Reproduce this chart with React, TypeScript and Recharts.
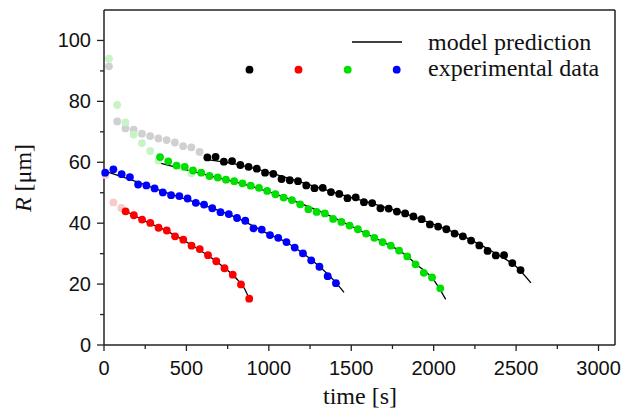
import React from 'react';
import { ComposedChart, Scatter, Line, XAxis, YAxis, ReferenceLine } from 'recharts';

const SERIF = '"Liberation Serif", "Times New Roman", serif';
const SANS = '"Liberation Sans", Arial, sans-serif';

const xTicks = [0, 250, 500, 750, 1000, 1250, 1500, 1750, 2000, 2250, 2500, 2750, 3000];
const yTicks = [0, 10, 20, 30, 40, 50, 60, 70, 80, 90, 100];

// experimental data
const redT = [131, 181, 231, 281, 331, 381, 431, 481, 531, 581, 631, 681, 731, 781, 831, 881];
const redR = [43.9, 42.6, 41.2, 40.1, 38.5, 37.6, 35.7, 34.6, 32.6, 31.5, 29.5, 27.5, 25.2, 23.1, 19.9, 15.2];

const blueT = [7, 57, 107, 157, 207, 257, 307, 357, 407, 457, 507, 557, 607, 657, 707, 757, 807, 857, 907, 957, 1007, 1057, 1107, 1157, 1207, 1257, 1307, 1357, 1407];
const blueR = [56.6, 57.7, 56.1, 55.1, 52.7, 52.4, 51.4, 50.1, 49.2, 48.9, 48.1, 46.7, 46.1, 44.9, 43.6, 43.0, 41.7, 40.8, 38.3, 37.9, 36.1, 35.2, 33.8, 32.0, 30.1, 27.8, 25.7, 22.6, 20.3];

const greenT = [340, 390, 440, 490, 540, 590, 640, 690, 740, 790, 840, 890, 940, 990, 1040, 1090, 1140, 1190, 1240, 1290, 1340, 1390, 1440, 1490, 1540, 1590, 1640, 1690, 1740, 1790, 1840, 1890, 1940, 1990, 2040];
const greenR = [61.7, 60.3, 58.9, 58.5, 57.3, 56.6, 55.5, 55.0, 54.3, 53.8, 53.1, 52.3, 51.6, 50.6, 49.5, 48.4, 47.6, 46.2, 44.6, 43.7, 43.2, 41.4, 40.4, 39.2, 38.0, 36.6, 35.2, 33.8, 32.6, 31.0, 29.1, 26.5, 23.7, 22.2, 18.6];

const blackT = [627, 677, 727, 777, 827, 877, 927, 977, 1027, 1077, 1127, 1177, 1227, 1277, 1327, 1377, 1427, 1477, 1527, 1577, 1627, 1677, 1727, 1777, 1827, 1877, 1927, 1977, 2027, 2077, 2127, 2177, 2227, 2277, 2327, 2377, 2427, 2477, 2527];
const blackR = [61.6, 61.8, 60.2, 60.4, 59.1, 58.5, 57.9, 56.6, 56.2, 54.5, 54.1, 53.8, 52.4, 51.5, 51.6, 50.2, 49.6, 48.2, 48.5, 46.9, 46.6, 44.9, 44.8, 43.8, 43.2, 42.2, 41.3, 39.6, 38.9, 38.0, 36.6, 35.7, 34.3, 32.7, 30.9, 29.4, 29.5, 26.9, 24.6];

// faded (excluded) points
const grayFadedT = [30, 80, 130, 180, 230, 280, 330, 380, 430, 480, 530, 580];
const grayFadedR = [91.5, 73.4, 71.1, 70.7, 69.4, 68.6, 67.8, 67.3, 66.5, 65.3, 64.9, 63.4];
const greenFadedT = [30, 80, 130, 180, 230, 280, 330, 480, 530];
const greenFadedR = [94.0, 78.8, 73.1, 69.1, 66.3, 63.7, 60.6, 58.3, 56.4];
const redFadedT = [8, 57, 105];
const redFadedR = [55.8, 46.8, 45.0];

// model prediction
const redModelT = [130, 250, 400, 550, 700, 800, 850, 878];
const redModelR = [44.0, 40.7, 36.9, 32.2, 26.7, 22.0, 18.7, 15.6];
const blueModelT = [0, 200, 400, 600, 800, 1000, 1100, 1200, 1300, 1400, 1456];
const blueModelR = [57.2, 53.6, 49.6, 46.0, 41.9, 36.4, 33.9, 30.4, 26.1, 20.9, 17.3];
const greenModelT = [340, 500, 700, 900, 1100, 1300, 1500, 1700, 1800, 1900, 2000, 2073];
const greenModelR = [59.7, 57.5, 54.8, 52.0, 48.4, 44.1, 39.0, 33.6, 30.7, 26.3, 21.4, 15.0];
const blackModelT = [626, 800, 1000, 1200, 1400, 1600, 1800, 2000, 2200, 2400, 2500, 2590];
const blackModelR = [60.9, 59.4, 56.7, 53.4, 50.0, 46.9, 43.6, 39.6, 35.2, 29.3, 25.8, 20.4];

const pts = (t: number[], r: number[]) => t.map((v, i) => ({ t: v, R: r[i] }));

const dot = (color: string) => (p: any) => <circle cx={p.cx} cy={p.cy} r={3.9} fill={color} />;

const AXIS = '#222';

function XTick({ x, y, payload }: any) {
  const major = payload.value % 500 === 0;
  return (
    <g>
      <line x1={x} x2={x} y1={y} y2={y + (major ? 6 : 4)} stroke={AXIS} strokeWidth={1.3} />
      {major && (
        <text x={x} y={y + 30} textAnchor="middle" fontFamily={SANS} fontSize={20} fill="#111">
          {payload.value}
        </text>
      )}
    </g>
  );
}

function YTick({ x, y, payload }: any) {
  const major = payload.value % 20 === 0;
  return (
    <g>
      <line x1={x - (major ? 7 : 4)} x2={x} y1={y} y2={y} stroke={AXIS} strokeWidth={1.3} />
      {major && (
        <text x={x - 13} y={y + 7} textAnchor="end" fontFamily={SANS} fontSize={20} fill="#111">
          {payload.value}
        </text>
      )}
    </g>
  );
}

const series = [
  { t: grayFadedT, r: grayFadedR, c: '#d0d0d0' },
  { t: greenFadedT, r: greenFadedR, c: '#c6f4c6' },
  { t: redFadedT, r: redFadedR, c: '#f9caca' },
  { t: redT, r: redR, c: '#ff0000' },
  { t: blueT, r: blueR, c: '#0000ff' },
  { t: greenT, r: greenR, c: '#00e000' },
  { t: blackT, r: blackR, c: '#000000' },
];

const models = [
  { t: redModelT, r: redModelR },
  { t: blueModelT, r: blueModelR },
  { t: greenModelT, r: greenModelR },
  { t: blackModelT, r: blackModelR },
];

export default function App() {
  return (
    <div style={{ position: 'absolute', left: 0, top: 0, width: 624, height: 412, background: '#fff' }}>
      <ComposedChart width={624} height={412} margin={{ top: 10, right: 9, left: 0, bottom: 0 }}>
        <XAxis
          dataKey="t"
          type="number"
          domain={[0, 3100]}
          ticks={xTicks}
          interval={0}
          tickSize={0}
          tickMargin={0}
          height={67}
          tick={<XTick />}
          tickLine={false}
          axisLine={{ stroke: AXIS, strokeWidth: 1.5 }}
        />
        <YAxis
          dataKey="R"
          type="number"
          domain={[0, 110]}
          ticks={yTicks}
          interval={0}
          tickSize={0}
          tickMargin={0}
          width={104}
          tick={<YTick />}
          tickLine={false}
          axisLine={{ stroke: AXIS, strokeWidth: 1.5 }}
        />
        <ReferenceLine y={110} stroke={AXIS} strokeWidth={1.5} />
        <ReferenceLine x={3100} stroke={AXIS} strokeWidth={1.5} />
        {series.map((s, i) => (
          <Scatter key={'s' + i} data={pts(s.t, s.r)} dataKey="R" shape={dot(s.c)} isAnimationActive={false} />
        ))}
        {models.map((m, i) => (
          <Line
            key={'m' + i}
            data={pts(m.t, m.r)}
            dataKey="R"
            type="monotone"
            stroke="#000"
            strokeWidth={1.3}
            dot={false}
            activeDot={false}
            isAnimationActive={false}
          />
        ))}
      </ComposedChart>
      <svg width={624} height={412} style={{ position: 'absolute', left: 0, top: 0, pointerEvents: 'none' }}>
        <line x1={352} x2={402} y1={42} y2={42} stroke="#000" strokeWidth={1.3} />
        <text x={428} y={50} fontFamily={SERIF} fontSize={24} fill="#111">model prediction</text>
        <circle cx={249.5} cy={69.7} r={3.9} fill="#000000" />
        <circle cx={298.5} cy={69.7} r={3.9} fill="#ff0000" />
        <circle cx={347.7} cy={69.7} r={3.9} fill="#00e000" />
        <circle cx={396.7} cy={69.7} r={3.9} fill="#0000ff" />
        <text x={428} y={76} fontFamily={SERIF} fontSize={24} fill="#111">experimental data</text>
        <text x={360} y={404} textAnchor="middle" fontFamily={SERIF} fontSize={24} fill="#111">time [s]</text>
        <text transform="translate(31,178) rotate(-90)" textAnchor="middle" fontFamily={SERIF} fontSize={24} fill="#111">
          <tspan fontStyle="italic">R</tspan> [μm]
        </text>
      </svg>
    </div>
  );
}
